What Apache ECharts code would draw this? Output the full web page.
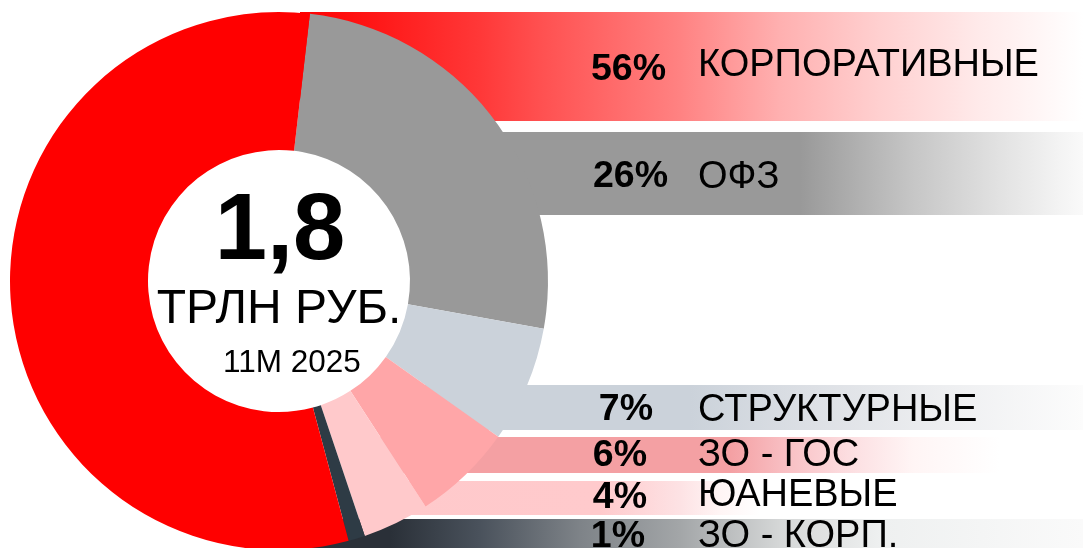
<!DOCTYPE html>
<html>
<head>
<meta charset="utf-8">
<script src="https://cdn.jsdelivr.net/npm/echarts@6/dist/echarts.min.js"></script>
<style>
  html, body { margin: 0; padding: 0; background: #fff; }
  #chart { width: 1083px; height: 548px; }
</style>
</head>
<body>
<div id="chart"></div>
<script>
// данные (по часовой стрелке от ОФЗ)
const categories = ['ОФЗ', 'СТРУКТУРНЫЕ', 'ЗО - ГОС', 'ЮАНЕВЫЕ', 'ЗО - КОРП.', 'КОРПОРАТИВНЫЕ'];
const shares = [26, 7, 6, 4, 1, 56];
const sliceColors = ['#999999', '#CBD2DA', '#FFA6A8', '#FFC9CB', '#2E3B45', '#FF0000'];

// порядок строк справа (сверху вниз), индексы в categories
const legendOrder = [5, 0, 1, 2, 3, 4];

const totalValue = '1,8';
const unitLabel = 'ТРЛН РУБ.';
const periodLabel = '11М 2025';

// раскладка полос: top, height, left, правый край процента, центр текста
const rows = [
  { top: 12,  h: 109, x0: 300, pctRight: 666, pctY: 70,  nameY: 66,
    stops: [[300, '#FF0000'], [480, '#FF3838'], [540, '#FF5050'], [680, '#FF8282'], [780, '#FFB0B0'], [880, '#FFD0D0'], [980, '#FFEAEA'], [1083, '#FFFFFF']] },
  { top: 132, h: 83,  x0: 400, pctRight: 668, pctY: 177, nameY: 178,
    stops: [[400, '#999999'], [800, '#999999'], [913, '#C6C6C6'], [1000, '#E2E2E2'], [1083, '#FAFAFA']] },
  { top: 385, h: 45,  x0: 420, pctRight: 653, pctY: 410, nameY: 411,
    stops: [[420, '#CBD2DA'], [690, '#CBD2DA'], [813, '#DDE0E5'], [947, '#EEEFF1'], [1083, '#FCFCFC']] },
  { top: 437, h: 36,  x0: 380, pctRight: 647, pctY: 456, nameY: 456,
    stops: [[380, '#F4A0A3'], [730, '#F4A0A3'], [780, '#F8BCC0'], [847, '#FCDDE0'], [913, '#FFF5F5'], [1000, '#FFFFFF'], [1083, '#FFFFFF']] },
  { top: 481, h: 34,  x0: 360, pctRight: 647, pctY: 498, nameY: 496,
    stops: [[360, '#FFC9CB'], [600, '#FFCACC'], [680, '#FDE2E4'], [720, '#FFF5F5'], [760, '#FFFFFF'], [1083, '#FFFFFF']] },
  { top: 519, h: 29,  x0: 300, pctRight: 645, pctY: 537, nameY: 537,
    stops: [[300, '#2A3038'], [390, '#2A3038'], [480, '#4A525C'], [580, '#7E8388'], [680, '#A3A6A8'], [780, '#D5D7D7'], [880, '#EEF0F0'], [1083, '#FAFAFA']] }
];

const W = 1083;
const fontFamily = '"Liberation Sans", Arial, sans-serif';

let chart = echarts.init(document.getElementById('chart'));

let graphics = [];
rows.forEach(function (r, i) {
  let idx = legendOrder[i];
  let span = W - r.x0;
  graphics.push({
    type: 'rect',
    z: 0,
    shape: { x: r.x0, y: r.top, width: span, height: r.h },
    style: {
      fill: new echarts.graphic.LinearGradient(0, 0, 1, 0, r.stops.map(function (s) {
        return { offset: (s[0] - r.x0) / span, color: s[1] };
      }))
    },
    silent: true
  });
  graphics.push({
    type: 'text',
    z: 100,
    x: r.pctRight,
    y: r.pctY,
    style: {
      text: shares[idx] + '%',
      fill: '#000',
      font: 'bold 37.5px ' + fontFamily,
      textAlign: 'right',
      textVerticalAlign: 'middle'
    },
    silent: true
  });
  graphics.push({
    type: 'text',
    z: 100,
    x: 698,
    y: r.nameY,
    style: {
      text: categories[idx],
      fill: '#000',
      font: '38px ' + fontFamily,
      textAlign: 'left',
      textVerticalAlign: 'middle'
    },
    silent: true
  });
});

// подпись в центре кольца
graphics.push({
  type: 'text', z: 100, x: 280, y: 233,
  style: { text: totalValue, fill: '#000', font: 'bold 94px ' + fontFamily, textAlign: 'center', textVerticalAlign: 'middle' },
  silent: true
});
graphics.push({
  type: 'text', z: 100, x: 279, y: 310,
  style: { text: unitLabel, fill: '#000', font: '48px ' + fontFamily, textAlign: 'center', textVerticalAlign: 'middle' },
  silent: true
});
graphics.push({
  type: 'text', z: 100, x: 292, y: 363,
  style: { text: periodLabel, fill: '#000', font: '31.5px ' + fontFamily, textAlign: 'center', textVerticalAlign: 'middle' },
  silent: true
});

let option = {
  animation: false,
  graphic: { elements: graphics },
  series: [
    {
      type: 'pie',
      z: 2,
      center: [279, 281],
      radius: [131, 269],
      startAngle: 83.4,
      clockwise: true,
      avoidLabelOverlap: false,
      label: { show: false },
      labelLine: { show: false },
      emphasis: { disabled: true },
      itemStyle: { borderWidth: 0 },
      data: categories.map(function (c, i) {
        return { name: c, value: shares[i], itemStyle: { color: sliceColors[i] } };
      })
    }
  ]
};
chart.setOption(option);
</script>
</body>
</html>
